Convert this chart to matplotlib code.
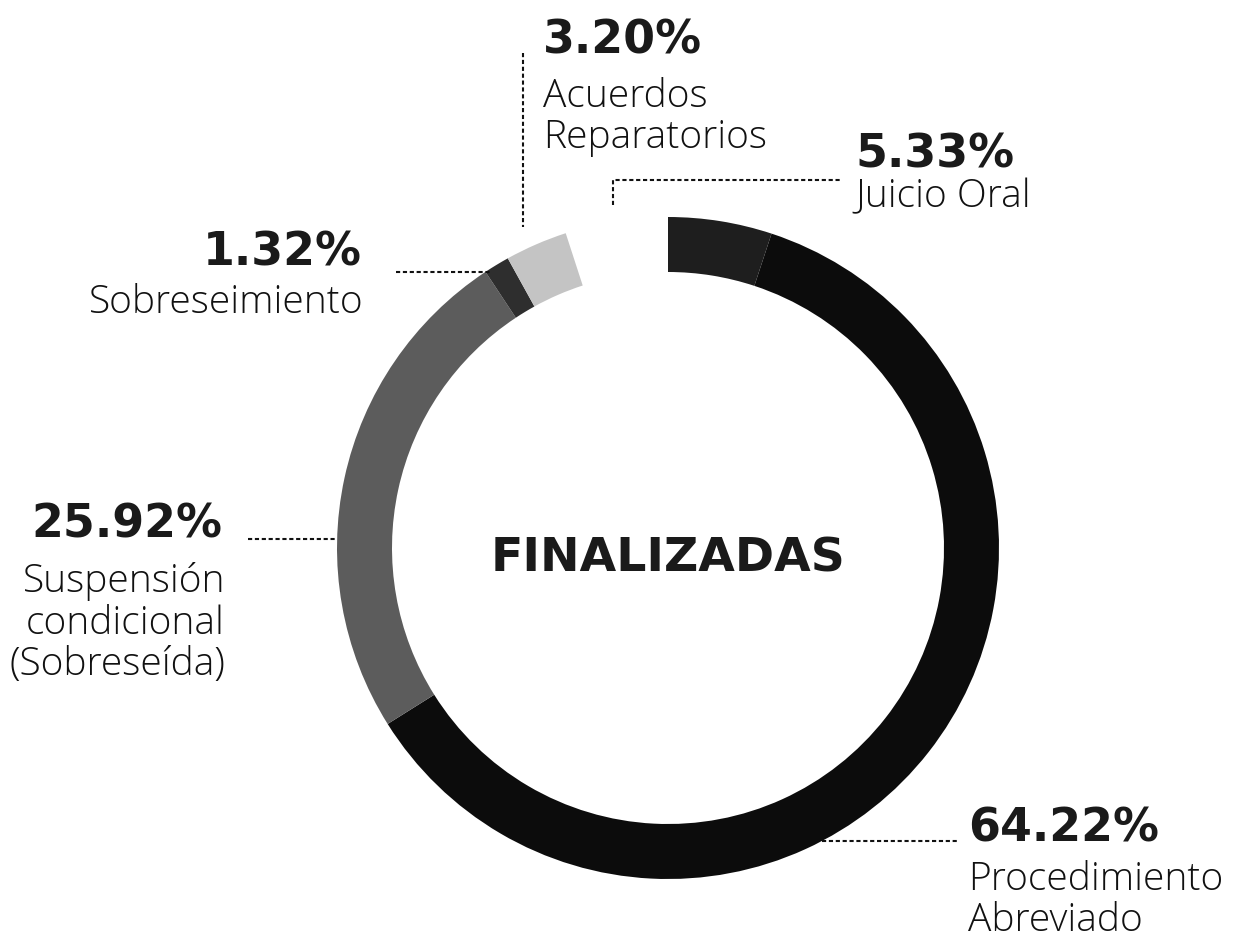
import matplotlib
matplotlib.use("Agg")
import matplotlib.pyplot as plt

# datos de causas finalizadas
categorias = ["Juicio Oral", "Procedimiento\nAbreviado", "Suspensión\ncondicional\n(Sobreseída)",
              "Sobreseimiento", "Acuerdos\nReparatorios"]
porcentajes = [5.33, 64.22, 25.92, 1.32, 3.20]
colores = ["#1e1e1e", "#0c0c0c", "#5c5c5c", "#2e2e2e", "#c4c4c4"]

W, H = 1234, 940
def Y(y):
    # coordenadas de imagen (y hacia abajo) -> datos
    return H - y

fig = plt.figure(figsize=(W / 100, H / 100), dpi=100)
ax = fig.add_axes([0, 0, 1, 1])

# anillo con hueco arriba (~18 grados)
hueco = sum(porcentajes) * 18 / 342
ax.pie(porcentajes + [hueco], radius=331, center=(668, Y(548)), startangle=90,
       counterclock=False, colors=colores + ["none"],
       wedgeprops=dict(width=55, edgecolor="none"))

ax.set_xlim(0, W)
ax.set_ylim(0, H)
ax.set_aspect("equal")
ax.axis("off")

bold = dict(family="DejaVu Sans", fontweight="bold", fontsize=33, color="#1a1a1a")
light = dict(family="Open Sans", fontweight="light", fontsize=28, color="#111111",
             linespacing=1.1)
punteada = dict(color="#111111", lw=1.5, linestyle=(0, (2, 1.3)))

# Acuerdos Reparatorios (va="baseline" en multilínea = última línea)
ax.text(543, Y(53), f"{porcentajes[4]:.2f}%", ha="left", va="baseline", **bold)
ax.text(543, Y(148), categorias[4], ha="left", va="baseline", **light)
ax.plot([523, 523], [Y(53), Y(227)], **punteada)

# Juicio Oral
ax.text(855, Y(167), f"{porcentajes[0]:.2f}%", ha="left", va="baseline", **bold)
ax.text(855, Y(207), categorias[0], ha="left", va="baseline", **light)
ax.plot([613, 613, 840], [Y(205), Y(180), Y(180)], **punteada)

# Sobreseimiento
ax.text(362, Y(265), f"{porcentajes[3]:.2f}%", ha="right", va="baseline", **bold)
ax.text(364, Y(313), categorias[3], ha="right", va="baseline", **light)
ax.plot([396, 490], [Y(272), Y(272)], **punteada)

# Suspensión condicional
ax.text(222, Y(538), f"{porcentajes[2]:.2f}%", ha="right", va="baseline", **bold)
ax.text(225, Y(675), categorias[2], ha="right", va="baseline", multialignment="right", **light)
ax.plot([248, 337], [Y(539), Y(539)], **punteada)

# Procedimiento Abreviado
ax.text(968, Y(842), f"{porcentajes[1]:.2f}%", ha="left", va="baseline", **bold)
ax.text(968, Y(931), categorias[1], ha="left", va="baseline", **light)
ax.plot([822, 958], [Y(841), Y(841)], **punteada)

# título central
ax.text(668, Y(572), "FINALIZADAS", ha="center", va="baseline",
        family="DejaVu Sans", fontweight="bold", fontsize=34, color="#1a1a1a")

fig.savefig("out.png", dpi=100, facecolor="white")
